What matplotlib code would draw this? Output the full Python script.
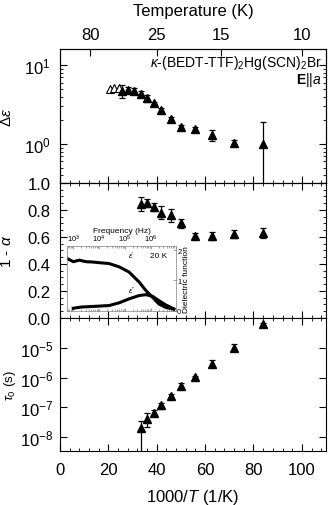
import numpy as np
import matplotlib
matplotlib.use('Agg')
import matplotlib.pyplot as plt
from matplotlib.ticker import MultipleLocator, LogLocator, NullFormatter

plt.rcParams['font.family'] = ['Liberation Sans', 'DejaVu Sans']
plt.rcParams['mathtext.fontset'] = 'custom'
plt.rcParams['mathtext.rm'] = 'Liberation Sans'
plt.rcParams['mathtext.it'] = 'Liberation Sans:italic'
plt.rcParams['mathtext.bf'] = 'Liberation Sans:bold'
plt.rcParams['font.size'] = 9

# Delta epsilon (top panel)
x_open = [20.6, 22.4, 24.2]
de_open = [5.0, 5.1, 5.1]
x_de = [25.7, 28.0, 30.5, 33.5, 35.9, 38.7, 41.9, 45.9, 50.2, 56.0, 63.0, 72.0, 84.0]
de = [4.7, 4.85, 4.7, 4.3, 3.8, 3.3, 2.7, 2.1, 1.65, 1.55, 1.3, 1.03, 1.0]
de_err = [0.9, 0.45, 0.4, 0.35, 0.4, 0.15, 0.15, 0.1, 0.1, 0.1, 0.2, 0.1, 0.9]

# 1 - alpha (middle panel)
x_al = [33.5, 35.9, 38.7, 41.9, 45.9, 50.2, 56.0, 63.0, 72.0, 84.0]
one_m_alpha = [0.845, 0.855, 0.825, 0.78, 0.76, 0.70, 0.61, 0.61, 0.62, 0.63]
al_err = [0.05, 0.03, 0.03, 0.05, 0.05, 0.03, 0.02, 0.03, 0.03, 0.04]

# tau0 (bottom panel)
x_tau = [33.5, 35.9, 38.7, 41.9, 45.9, 50.2, 56.0, 63.0, 72.0, 84.0]
tau = [1.95e-8, 4.2e-8, 6.5e-8, 1.15e-7, 2.4e-7, 5.2e-7, 1.05e-6, 2.9e-6, 1.0e-5, 6.3e-5]
tau_lo = [1e-10, 2.1e-8, 5.0e-8, 9.0e-8, 2.0e-7, 4.2e-7, 0.95e-6, 2.3e-6, 7.5e-6, 5.5e-5]
tau_hi = [3.5e-8, 6.3e-8, 8.0e-8, 1.4e-7, 2.8e-7, 6.5e-7, 1.15e-6, 3.8e-6, 1.35e-5, 7.0e-5]

# inset spectrum at 20 K (log10 frequency, dielectric function)
logf_e1 = [2.78, 3.0, 3.23, 3.5, 3.74, 4.1, 4.38, 4.77, 5.15, 5.54, 5.80, 6.05, 6.31, 6.57, 6.88]
eps1 = [1.72, 1.62, 1.67, 1.62, 1.61, 1.58, 1.56, 1.45, 1.28, 0.95, 0.67, 0.45, 0.22, 0.11, 0.05]
logf_e2 = [3.0, 3.3, 3.74, 4.38, 4.77, 5.15, 5.54, 5.80, 6.05, 6.31, 6.57, 6.88]
eps2 = [0.08, 0.12, 0.14, 0.17, 0.26, 0.39, 0.50, 0.53, 0.48, 0.33, 0.19, 0.06]

temp_ticks = [80, 25, 15, 10]

TICK_FS = 12
LABEL_FS = 12
YLABEL_FS = 11

fig = plt.figure(figsize=(3.32, 5.06), dpi=100)
L, W = 0.181, 0.801
ax1 = fig.add_axes([L, 0.6364, W, 0.2646])
ax2 = fig.add_axes([L, 0.3696, W, 0.2668])
ax3 = fig.add_axes([L, 0.1067, W, 0.2629])

ebkw = dict(fmt='^', color='black', ms=5.5, capsize=2.5, elinewidth=0.9, capthick=0.9)

ax1.plot(x_open, de_open, '^', mfc='white', mec='black', ms=5.5, mew=0.8)
ax1.errorbar(x_de, de, yerr=de_err, **ebkw)
ax1.set_yscale('log')
ax1.set_ylim(0.32, 16)
ax1.set_yticks([1, 10])
ax1.set_yticklabels(['$10^0$', '$10^1$'])
ax1.yaxis.set_minor_locator(LogLocator(subs=np.arange(2, 10)))
ax1.yaxis.set_minor_formatter(NullFormatter())
ax1.set_ylabel(r'$\Delta\varepsilon$', fontsize=YLABEL_FS)
ax1.text(0.985, 0.905, r'$\kappa$-(BEDT-TTF)$_2$Hg(SCN)$_2$Br', transform=ax1.transAxes,
         ha='right', va='center', fontsize=10)
ax1.text(0.985, 0.78, r'$\mathbf{E}||a$', transform=ax1.transAxes,
         ha='right', va='center', fontsize=10)

ax2.errorbar(x_al, one_m_alpha, yerr=al_err, **ebkw)
ax2.set_ylim(0, 1.0)
ax2.set_yticks([0, 0.2, 0.4, 0.6, 0.8, 1.0])
ax2.set_yticklabels(['0.0', '0.2', '0.4', '0.6', '0.8', '1.0'])
ax2.yaxis.set_minor_locator(MultipleLocator(0.05))
ax2.set_ylabel(r'1 - $\alpha$', fontsize=YLABEL_FS)

yerr_tau = [np.array(tau) - np.array(tau_lo), np.array(tau_hi) - np.array(tau)]
ax3.errorbar(x_tau, tau, yerr=yerr_tau, **ebkw)
ax3.set_yscale('log')
ax3.set_ylim(3.4e-9, 1e-4)
ax3.set_yticks([1e-8, 1e-7, 1e-6, 1e-5])
ax3.set_yticklabels(['$10^{-8}$', '$10^{-7}$', '$10^{-6}$', '$10^{-5}$'])
ax3.yaxis.set_minor_locator(LogLocator(subs=np.arange(2, 10)))
ax3.yaxis.set_minor_formatter(NullFormatter())
ax3.set_ylabel(r'$\tau_0$ (s)', fontsize=9.5)
ax3.set_xlabel('1000/$T$ (1/K)', fontsize=LABEL_FS, labelpad=7)

for ax in (ax1, ax2, ax3):
    ax.set_xlim(0, 110)
    ax.xaxis.set_major_locator(MultipleLocator(20))
    ax.xaxis.set_minor_locator(MultipleLocator(4))
    ax.tick_params(which='both', direction='in', top=True, right=True, labelsize=TICK_FS)
    ax.tick_params(which='major', length=5, width=0.8)
    ax.tick_params(which='minor', length=2.5, width=0.6)
    ax.tick_params(axis='y', pad=7)
    ax.tick_params(axis='x', pad=8)
    ax.yaxis.set_label_coords(-0.175, 0.5)
    if ax is not ax3:
        ax.tick_params(labelbottom=False)
ax3.tick_params(axis='y', pad=5)
ax3.yaxis.set_label_coords(-0.16, 0.5)

# top temperature axis
axt = ax1.twiny()
axt.set_xlim(0, 110)
axt.set_xticks([1000 / t for t in temp_ticks])
axt.set_xticklabels([str(t) for t in temp_ticks])
axt.tick_params(direction='in', length=5, width=0.8, labelsize=TICK_FS, pad=5)
ax1.tick_params(which='both', top=False)
axt.set_xlabel('Temperature (K)', fontsize=LABEL_FS, labelpad=9)

# inset spectrum
axi = fig.add_axes([0.2027, 0.384, 0.327, 0.1285])
axi.plot(10 ** np.array(logf_e1), eps1, '-', color='black', lw=2.2)
axi.plot(10 ** np.array(logf_e2), eps2, '-', color='black', lw=2.2)
axi.set_xscale('log')
axi.set_xlim(10 ** 2.77, 10 ** 6.96)
axi.set_ylim(0, 2.15)
axi.xaxis.tick_top()
axi.yaxis.tick_right()
axi.yaxis.set_label_position('right')
axi.xaxis.set_label_position('top')
axi.set_xticks([1e3, 1e4, 1e5, 1e6])
axi.set_xticklabels(['$10^3$', '$10^4$', '$10^5$', '$10^6$'])
axi.set_yticks([0, 1, 2])
axi.tick_params(which='both', direction='in', labelsize=5.5, length=2, width=0.5,
                pad=1, bottom=True, top=True, right=True, left=False, color='gray')
axi.tick_params(which='minor', length=1.2)
axi.set_xlabel('Frequency (Hz)', fontsize=6, labelpad=1)
axi.set_ylabel('Dielectric function', fontsize=6, labelpad=1)
for s in axi.spines.values():
    s.set_linewidth(0.5)
    s.set_color('gray')
axi.text(0.92, 0.85, '20 K', transform=axi.transAxes, ha='right', va='center', fontsize=6)
axi.text(0.56, 0.85, r"$\varepsilon'$", transform=axi.transAxes, va='center', fontsize=5.5)
axi.text(0.56, 0.32, r"$\varepsilon''$", transform=axi.transAxes, va='center', fontsize=5.5)

fig.savefig('out.png', dpi=100)
